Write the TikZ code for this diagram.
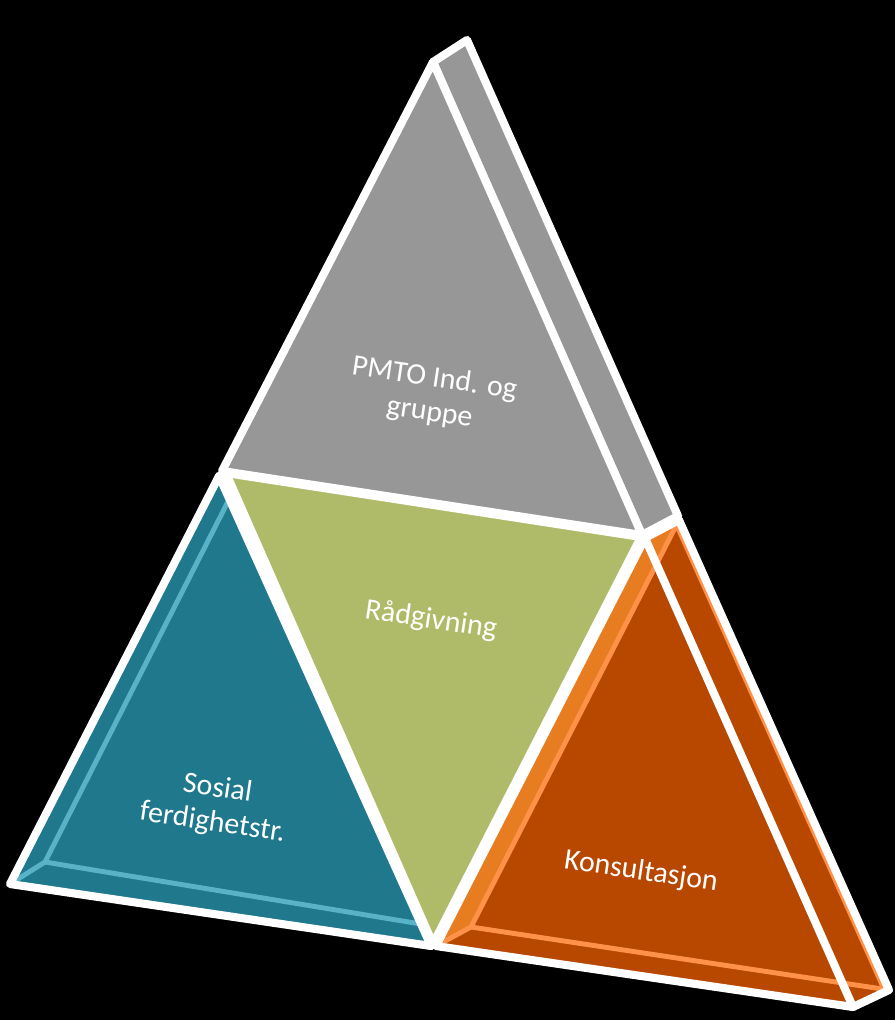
\documentclass[tikz,border=0pt]{standalone}
\usepackage{fontspec}
\setmainfont{Carlito}
\definecolor{PyrGray}{RGB}{151,151,151}
\definecolor{PyrGreen}{RGB}{176,187,106}
\definecolor{PyrTeal}{RGB}{31,120,140}
\definecolor{PyrTealLight}{RGB}{88,179,200}
\definecolor{PyrOrange}{RGB}{184,71,0}
\definecolor{PyrOrangeMid}{RGB}{232,124,32}
\definecolor{PyrOrangeLight}{RGB}{255,145,72}
\tikzset{
  pyr/face/.style={
    draw=white,
    line width=4.6pt,
    line join=round
  },
  pyr/edge/.style={draw=white, line width=4.6pt, line cap=round},
  pyr/stripe/.style={line width=2.8pt},
  pyr/label/.style={
    text=white,
    align=center,
    rotate=-8.5,
    font=\fontsize{17}{19.5}\selectfont
  }
}

\begin{document}
\begin{tikzpicture}[x=0.02cm,y=-0.02cm]
  \fill[black] (0,0) rectangle (895,1020);
  % corners of the faces
  \coordinate (gtop) at (433,62);
  \coordinate (gtopb) at (467,40);
  \coordinate (gleft) at (222,471);
  \coordinate (gright) at (642,535);
  \coordinate (grightb) at (678,516);
  \coordinate (otop) at (645,538);
  \coordinate (otopb) at (679,520);
  \coordinate (oleft) at (436,946);
  \coordinate (oright) at (853,1007);
  \coordinate (orightb) at (889,990);
  \coordinate (oinner) at (471,927);
  \coordinate (rleft) at (226,473);
  \coordinate (rright) at (641,537);
  \coordinate (rbottom) at (433,944);
  \coordinate (ttop) at (219,476);
  \coordinate (tleft) at (10,884);
  \coordinate (tright) at (431,946);
  \coordinate (tinner) at (45,862);
  % top
  \filldraw[pyr/face,fill=PyrGray] (gtop) -- (gtopb) -- (grightb) -- (gright) -- cycle;
  \filldraw[pyr/face,fill=PyrGray] (gtop) -- (gleft) -- (gright) -- cycle;
  % right
  \fill[PyrOrange] (otop) -- (otopb) -- (orightb) -- (oright) -- (oleft) -- cycle;
  \begin{scope}
    \clip (otop) -- (otopb) -- (orightb) -- (oright) -- (oleft) -- cycle;
    \fill[PyrOrangeMid] (otop) -- (otopb) -- (oinner) -- (oleft) -- cycle;
    \draw[pyr/stripe,draw=PyrOrangeLight,line width=7.6pt] (otopb) -- (orightb);
    \draw[pyr/stripe,draw=PyrOrangeLight] (otopb) -- (oinner) -- (orightb);
    \draw[pyr/stripe,draw=PyrOrangeLight] (oleft) -- (oinner);
  \end{scope}
  \draw[pyr/face] (otop) -- (otopb) -- (orightb) -- (oright) -- (oleft) -- cycle;
  \draw[pyr/edge] (otop) -- (oright);
  % middle
  \filldraw[pyr/face,fill=PyrGreen] (rleft) -- (rright) -- (rbottom) -- cycle;
  % left
  \fill[PyrTeal] (ttop) -- (tleft) -- (tright) -- cycle;
  \begin{scope}
    \clip (ttop) -- (tleft) -- (tright) -- cycle;
    \draw[pyr/stripe,draw=PyrTealLight] (244,470) -- (tinner) -- (445,928);
    \draw[pyr/stripe,draw=PyrTealLight] (tleft) -- (tinner);
  \end{scope}
  \draw[pyr/face] (ttop) -- (tleft) -- (tright) -- cycle;
  % labels
  \node[pyr/label] (pmto) at (432,396) {PMTO Ind. og\\gruppe};
  \node[pyr/label] (raad) at (431,620) {Rådgivning};
  \node[pyr/label] (sosial) at (215,806) {Sosial\\ferdighetstr.};
  \node[pyr/label] (konsult) at (641,872) {Konsultasjon};
\end{tikzpicture}
\end{document}
